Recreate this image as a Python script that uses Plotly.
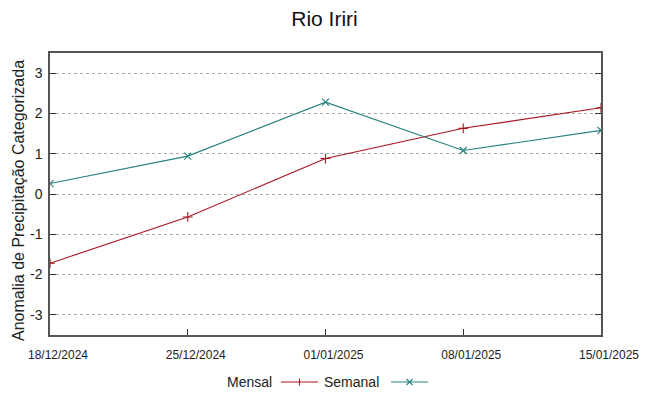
import plotly.graph_objects as go

dates = ["2024-12-18", "2024-12-25", "2025-01-01", "2025-01-08", "2025-01-15"]
tick_labels = ["18/12/2024", "25/12/2024", "01/01/2025", "08/01/2025", "15/01/2025"]
mensal = [-1.72, -0.57, 0.88, 1.63, 2.14]
semanal = [0.26, 0.94, 2.28, 1.08, 1.58]
y_ticks = [-3, -2, -1, 0, 1, 2, 3]
y_tick_labels = ["-3", "-2", "-1", "0", "1", "2", "3"]

RED = "#a8161e"
TEAL = "#25807f"
FONT = "Liberation Sans, Arial, sans-serif"

fig = go.Figure()
fig.add_trace(go.Scatter(x=dates, y=mensal, mode="lines+markers", name="Mensal",
                         line=dict(color=RED, width=1.1),
                         marker=dict(symbol="cross-thin", size=7, line=dict(color=RED, width=1.1)),
                         showlegend=False))
fig.add_trace(go.Scatter(x=dates, y=semanal, mode="lines+markers", name="Semanal",
                         line=dict(color=TEAL, width=1.1),
                         marker=dict(symbol="x-thin", size=7, line=dict(color=TEAL, width=1.1)),
                         showlegend=False))

fig.update_layout(
    width=649, height=396,
    margin=dict(l=50, r=48, t=53, b=61, autoexpand=False),
    paper_bgcolor="white", plot_bgcolor="white",
    font=dict(family=FONT, size=14, color="#222222"),
    title=dict(text="Rio Iriri", x=0.5, xanchor="center", y=0.952, yanchor="middle",
               font=dict(size=21, color="#111111")),
    xaxis=dict(
        type="date", range=["2024-12-18", "2025-01-15"],
        tickvals=dates, ticktext=tick_labels,
        ticks="inside", ticklen=6, tickcolor="#333333",
        ticklabelstandoff=8, ticklabelshift=8,
        showgrid=False, zeroline=False,
        showline=True, linecolor="#555555", linewidth=1.5, mirror=True,
        tickfont=dict(size=12, color="#222222"),
    ),
    yaxis=dict(
        range=[-3.5, 3.5], tickvals=y_ticks, ticktext=y_tick_labels,
        ticks="inside", ticklen=6, tickcolor="#333333",
        ticklabelstandoff=3,
        showgrid=True, gridcolor="#aaaaaa", griddash="dot", gridwidth=1,
        zeroline=False,
        showline=True, linecolor="#555555", linewidth=1.5, mirror="ticks",
        tickfont=dict(size=14, color="#222222"),
    ),
)

def pxp(xpix):
    return (xpix - 50) / 551.0

def pyp(ypix):
    return (335 - ypix) / 282.0

# y-axis title
fig.add_annotation(text="Anomalia de Precipitação Categorizada", xref="paper", yref="paper",
                   x=pxp(18), y=pyp(201), xanchor="center", yanchor="middle", textangle=-90,
                   showarrow=False, font=dict(size=16, color="#222222"))

ly = 382
fig.add_annotation(text="Mensal", xref="paper", yref="paper", x=pxp(274), y=pyp(ly),
                   xanchor="right", yanchor="middle", showarrow=False, font=dict(size=14, color="#222222"))
fig.add_annotation(text="Semanal", xref="paper", yref="paper", x=pxp(381), y=pyp(ly),
                   xanchor="right", yanchor="middle", showarrow=False, font=dict(size=14, color="#222222"))

shapes = []
shapes.append(dict(type="line", xref="paper", yref="paper", x0=pxp(281), x1=pxp(318), y0=pyp(ly), y1=pyp(ly),
                   line=dict(color=RED, width=1.1)))
shapes.append(dict(type="line", xref="paper", yref="paper", x0=pxp(299.5), x1=pxp(299.5), y0=pyp(ly - 3.5), y1=pyp(ly + 3.5),
                   line=dict(color=RED, width=1.1)))
shapes.append(dict(type="line", xref="paper", yref="paper", x0=pxp(391), x1=pxp(428), y0=pyp(ly), y1=pyp(ly),
                   line=dict(color=TEAL, width=1.1)))
shapes.append(dict(type="line", xref="paper", yref="paper", x0=pxp(406.5), x1=pxp(412.5), y0=pyp(ly - 3), y1=pyp(ly + 3),
                   line=dict(color=TEAL, width=1.1)))
shapes.append(dict(type="line", xref="paper", yref="paper", x0=pxp(406.5), x1=pxp(412.5), y0=pyp(ly + 3), y1=pyp(ly - 3),
                   line=dict(color=TEAL, width=1.1)))
fig.update_layout(shapes=shapes)

fig.write_html("out.html", config={"displayModeBar": False},
               post_script="document.body.style.margin='0';")
